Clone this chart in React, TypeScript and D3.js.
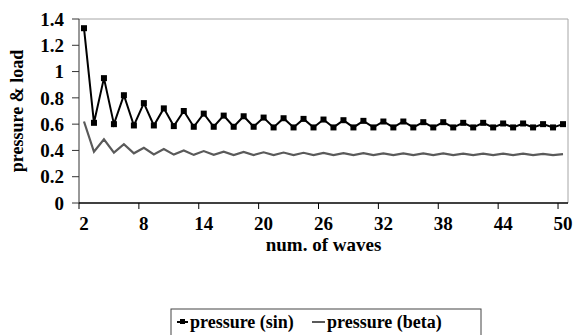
import { useEffect, useRef } from 'react'
import * as d3 from 'd3'

const waves = d3.range(2, 51)
const sinPressure = [
  1.33, 0.61, 0.95, 0.60, 0.82, 0.59, 0.76, 0.59, 0.72, 0.585,
  0.70, 0.58, 0.68, 0.58, 0.665, 0.58, 0.66, 0.58, 0.65, 0.575,
  0.645, 0.575, 0.64, 0.575, 0.635, 0.575, 0.63, 0.575, 0.625, 0.575,
  0.62, 0.575, 0.62, 0.575, 0.615, 0.575, 0.615, 0.575, 0.61, 0.575,
  0.61, 0.575, 0.605, 0.575, 0.605, 0.575, 0.60, 0.575, 0.60,
]
const betaPressure = [
  0.62, 0.39, 0.485, 0.383, 0.447, 0.378, 0.42, 0.37, 0.41, 0.368,
  0.40, 0.366, 0.395, 0.366, 0.39, 0.365, 0.388, 0.365, 0.386, 0.365,
  0.384, 0.365, 0.382, 0.365, 0.381, 0.365, 0.38, 0.365, 0.379, 0.365,
  0.378, 0.365, 0.378, 0.365, 0.377, 0.365, 0.377, 0.365, 0.376, 0.365,
  0.376, 0.365, 0.375, 0.365, 0.375, 0.365, 0.374, 0.365, 0.372,
]
const xTickLabels = [2, 8, 14, 20, 26, 32, 38, 44, 50]
const yTicks = [0, 0.2, 0.4, 0.6, 0.8, 1, 1.2, 1.4]

const W = 574
const H = 335
const FONT = '"Liberation Serif", "DejaVu Serif", "Times New Roman", Times, serif'

export default function App() {
  const ref = useRef<SVGSVGElement>(null)

  useEffect(() => {
    if (!ref.current) return
    const svg = d3.select(ref.current)
    svg.selectAll('*').remove()

    const left = 79, right = 568, top = 19, bottom = 203

    const x = d3.scaleBand<number>().domain(waves).range([left, right]).padding(0)
    const cx = (c: number) => (x(c) as number) + x.bandwidth() / 2
    const y = d3.scaleLinear().domain([0, 1.4]).range([bottom, top])

    svg.append('rect').attr('width', W).attr('height', H).attr('fill', '#fff')

    // plot frame (top/right gray)
    svg.append('path')
      .attr('d', `M${left},${top}H${right}V${bottom}`)
      .attr('fill', 'none').attr('stroke', '#a6a6a6').attr('stroke-width', 1)

    // y axis
    const yAxis = svg.append('g')
    yAxis.append('line')
      .attr('x1', left).attr('x2', left).attr('y1', top).attr('y2', bottom)
      .attr('stroke', '#333').attr('stroke-width', 1)
    yTicks.forEach(t => {
      yAxis.append('line')
        .attr('x1', left - 7).attr('x2', left).attr('y1', y(t)).attr('y2', y(t))
        .attr('stroke', '#333')
      yAxis.append('text')
        .attr('x', left - 15).attr('y', y(t)).attr('dy', '0.35em')
        .attr('text-anchor', 'end')
        .style('font-family', FONT).attr('font-weight', 'bold').attr('font-size', 19)
        .text(d3.format('~g')(t))
    })

    // x axis
    const xAxis = svg.append('g')
    xAxis.append('line')
      .attr('x1', left).attr('x2', right).attr('y1', bottom).attr('y2', bottom)
      .attr('stroke', '#000').attr('stroke-width', 1.5)
    xTickLabels.forEach(c => {
      xAxis.append('line')
        .attr('x1', x(c) as number).attr('x2', x(c) as number)
        .attr('y1', bottom).attr('y2', bottom + 6)
        .attr('stroke', '#000')
      xAxis.append('text')
        .attr('x', cx(c)).attr('y', bottom + 27)
        .attr('text-anchor', 'middle')
        .style('font-family', FONT).attr('font-weight', 'bold').attr('font-size', 19)
        .text(c)
    })

    // axis titles
    svg.append('text')
      .attr('x', (left + right) / 2).attr('y', 251)
      .attr('text-anchor', 'middle')
      .style('font-family', FONT).attr('font-weight', 'bold').attr('font-size', 19)
      .text('num. of waves')
    svg.append('text')
      .attr('transform', `translate(23,${(top + bottom) / 2}) rotate(-90)`)
      .attr('text-anchor', 'middle')
      .style('font-family', FONT).attr('font-weight', 'bold').attr('font-size', 18)
      .text('pressure & load')

    const line = d3.line<number>().x((_, i) => cx(waves[i])).y(d => y(d))

    svg.append('path')
      .attr('d', line(betaPressure))
      .attr('fill', 'none').attr('stroke', '#5a5a5a').attr('stroke-width', 2.2)

    svg.append('path')
      .attr('d', line(sinPressure))
      .attr('fill', 'none').attr('stroke', '#000').attr('stroke-width', 2)
    svg.append('g').selectAll('rect')
      .data(sinPressure)
      .enter().append('rect')
      .attr('x', (_, i) => cx(waves[i]) - 3)
      .attr('y', d => y(d) - 3)
      .attr('width', 6).attr('height', 6)
      .attr('fill', '#000')

    // legend
    const lg = svg.append('g')
    lg.append('rect')
      .attr('x', 171).attr('y', 309).attr('width', 310).attr('height', 40)
      .attr('fill', '#fff').attr('stroke', '#444').attr('stroke-width', 1)
    lg.append('line')
      .attr('x1', 177).attr('x2', 188).attr('y1', 322).attr('y2', 322)
      .attr('stroke', '#000').attr('stroke-width', 2)
    lg.append('rect')
      .attr('x', 180).attr('y', 319).attr('width', 5).attr('height', 5).attr('fill', '#000')
    lg.append('text')
      .attr('x', 190).attr('y', 328)
      .style('font-family', FONT).attr('font-weight', 'bold').attr('font-size', 18)
      .text('pressure (sin)')
    lg.append('line')
      .attr('x1', 312).attr('x2', 325).attr('y1', 322).attr('y2', 322)
      .attr('stroke', '#5a5a5a').attr('stroke-width', 2)
    lg.append('text')
      .attr('x', 327).attr('y', 328)
      .style('font-family', FONT).attr('font-weight', 'bold').attr('font-size', 18)
      .text('pressure (beta)')
  }, [])

  return (
    <svg ref={ref} width={W} height={H}
      style={{ position: 'absolute', left: 0, top: 0, display: 'block' }} />
  )
}
